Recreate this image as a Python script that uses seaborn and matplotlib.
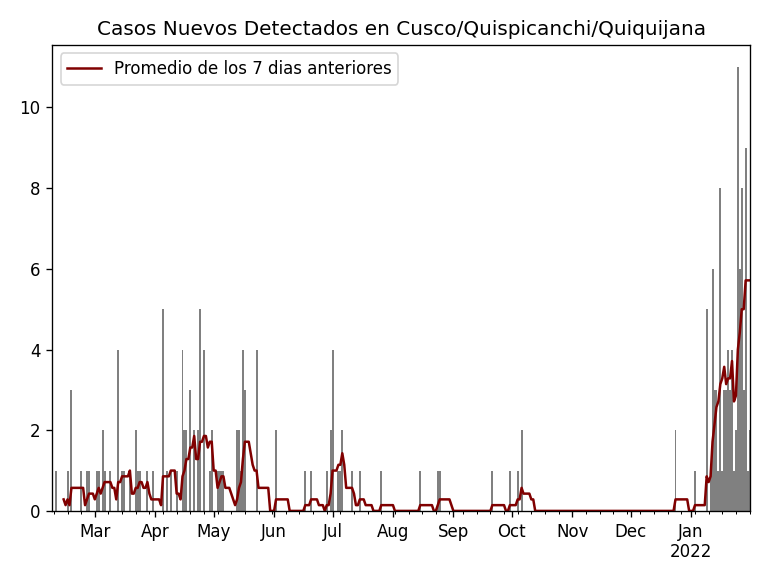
import pandas as pd
import matplotlib
matplotlib.use("Agg")
import matplotlib.pyplot as plt
import matplotlib.dates as mdates
from matplotlib.ticker import FuncFormatter
import seaborn as sns

# rango de dias del reporte
inicio = "2021-02-07"
fin = "2022-01-31"

# dias con casos (el resto es cero)
fechas = [
    "2021-02-07", "2021-02-09", "2021-02-15", "2021-02-17", "2021-02-22",
    "2021-02-25", "2021-02-26", "2021-03-02", "2021-03-03", "2021-03-05",
    "2021-03-06", "2021-03-09", "2021-03-13", "2021-03-15", "2021-03-16",
    "2021-03-19", "2021-03-22", "2021-03-23", "2021-03-24", "2021-03-28",
    "2021-03-31", "2021-04-05", "2021-04-07", "2021-04-09", "2021-04-12",
    "2021-04-15", "2021-04-16", "2021-04-17", "2021-04-19", "2021-04-21",
    "2021-04-23", "2021-04-24", "2021-04-26", "2021-04-29", "2021-04-30",
    "2021-05-03", "2021-05-04", "2021-05-05", "2021-05-06", "2021-05-13",
    "2021-05-14", "2021-05-15", "2021-05-16", "2021-05-17", "2021-05-23",
    "2021-06-02", "2021-06-17", "2021-06-20", "2021-06-28", "2021-06-30",
    "2021-07-01", "2021-07-04", "2021-07-05", "2021-07-06", "2021-07-11",
    "2021-07-15", "2021-07-26", "2021-08-15", "2021-08-24", "2021-08-25",
    "2021-09-21", "2021-09-30", "2021-10-04", "2021-10-06", "2021-12-24",
    "2022-01-03", "2022-01-09", "2022-01-11", "2022-01-12", "2022-01-13",
    "2022-01-14", "2022-01-15", "2022-01-16", "2022-01-17", "2022-01-18",
    "2022-01-19", "2022-01-20", "2022-01-21", "2022-01-22", "2022-01-23",
    "2022-01-24", "2022-01-25", "2022-01-26", "2022-01-27", "2022-01-28",
    "2022-01-29", "2022-01-30", "2022-01-31",
]
casos = [
    1, 1, 1, 3, 1,
    1, 1, 1, 1, 2,
    1, 1, 4, 1, 1,
    1, 2, 1, 1, 1,
    1, 5, 1, 1, 1,
    4, 2, 2, 3, 2,
    2, 5, 4, 1, 2,
    1, 1, 1, 1, 2,
    2, 1, 4, 3, 4,
    2, 1, 1, 1, 2,
    4, 1, 1, 2, 1,
    1, 1, 1, 1, 1,
    1, 1, 1, 2, 2,
    1, 5, 1, 6, 3,
    3, 1, 8, 1, 3,
    3, 4, 3, 4, 1,
    2, 11, 6, 8, 3,
    9, 1, 2,
]

titulo = "Casos Nuevos Detectados en Cusco/Quispicanchi/Quiquijana"
etiqueta = "Promedio de los 7 dias anteriores"

serie = pd.Series(0, index=pd.date_range(inicio, fin, freq="D"))
serie.loc[pd.to_datetime(fechas)] = casos
promedio = serie.rolling(7).mean()

df = pd.DataFrame({
    "dia": mdates.date2num(serie.index),
    "casos": serie.values,
    "promedio": promedio.values,
})

fig, ax = plt.subplots(figsize=(6.4, 4.8), dpi=120)
fig.subplots_adjust(left=0.068, right=0.977, top=0.922, bottom=0.113)

sns.histplot(data=df, x="dia", weights="casos", discrete=True, shrink=1.0,
             color="gray", alpha=1, linewidth=0, ax=ax)
sns.lineplot(data=df, x="dia", y="promedio", color="maroon", linewidth=1.5,
             estimator=None, label=etiqueta, ax=ax)


def mes(v, pos):
    d = mdates.num2date(v)
    if d.month == 1:
        return d.strftime("%b\n%Y")
    return d.strftime("%b")


ax.xaxis.set_major_locator(mdates.MonthLocator())
ax.xaxis.set_minor_locator(mdates.WeekdayLocator(byweekday=mdates.MO))
ax.xaxis.set_major_formatter(FuncFormatter(mes))
ax.set_xlim(mdates.date2num(pd.Timestamp(inicio)) + 0.14,
            mdates.date2num(pd.Timestamp(fin)) + 0.4)

ax.set_xlabel("")
ax.set_ylabel("")
ax.set_title(titulo)
ax.legend(loc="upper left")

fig.savefig("out.png", dpi=120)
